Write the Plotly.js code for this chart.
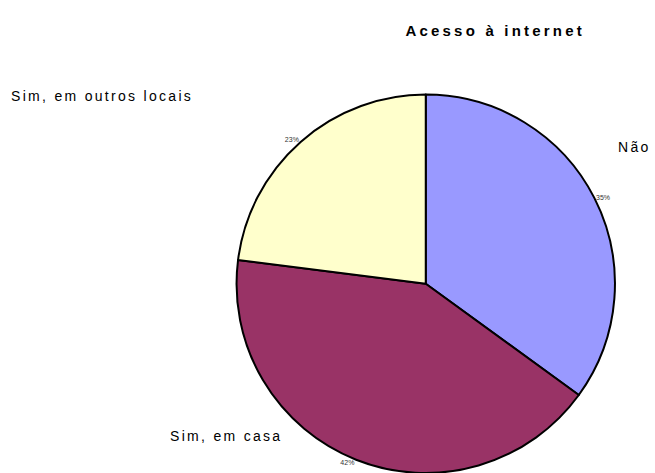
<!DOCTYPE html>
<html>
<head>
<meta charset="utf-8">
<script src="https://cdn.plot.ly/plotly-3.0.1.min.js"></script>
<style>
html, body { margin: 0; padding: 0; background: #fff; overflow: hidden; }
#chart { width: 655px; height: 473px; }
.annotation-text { letter-spacing: 2.3px; }
.gtitle { letter-spacing: 3.2px; }
</style>
</head>
<body>
<div id="chart"></div>
<script>
const categories = ["Não", "Sim, em casa", "Sim, em outros locais"];
const values = [35, 42, 23];
const colors = ["#9999FF", "#993366", "#FFFFCC"];
const titleText = "Acesso à internet";

const trace = {
  type: "pie",
  labels: categories,
  values: values,
  sort: false,
  direction: "clockwise",
  rotation: 0,
  marker: { colors: colors, line: { color: "#000000", width: 2 } },
  textinfo: "percent",
  texttemplate: "%{percent:.0%}",
  textposition: "outside",
  textfont: { family: "Liberation Sans, Arial, sans-serif", size: 7, color: "#333333" },
  outsidetextfont: { family: "Liberation Sans, Arial, sans-serif", size: 7, color: "#333333" },
  hoverinfo: "label+percent",
  showlegend: false,
  domain: { x: [0.33, 0.97], y: [0, 0.80] }
};

const labelFont = { family: "Liberation Sans, Arial, sans-serif", size: 14, color: "#000000" };

const layout = {
  width: 655,
  height: 473,
  margin: { l: 0, r: 0, t: 0, b: 0 },
  paper_bgcolor: "#ffffff",
  title: {
    text: "<b>" + titleText + "</b>",
    font: { family: "Liberation Sans, Arial, sans-serif", size: 15, color: "#000000" },
    x: 0.756, xanchor: "center", y: 0.935, yanchor: "middle"
  },
  annotations: [
    { text: categories[0], xref: "paper", yref: "paper", x: 0.940, y: 0.689, xanchor: "left", yanchor: "middle", showarrow: false, font: labelFont },
    { text: categories[1], xref: "paper", yref: "paper", x: 0.257, y: 0.078, xanchor: "left", yanchor: "middle", showarrow: false, font: labelFont },
    { text: categories[2], xref: "paper", yref: "paper", x: 0.014, y: 0.797, xanchor: "left", yanchor: "middle", showarrow: false, font: labelFont }
  ]
};

Plotly.newPlot("chart", [trace], layout, { displayModeBar: false, staticPlot: true });
</script>
</body>
</html>
